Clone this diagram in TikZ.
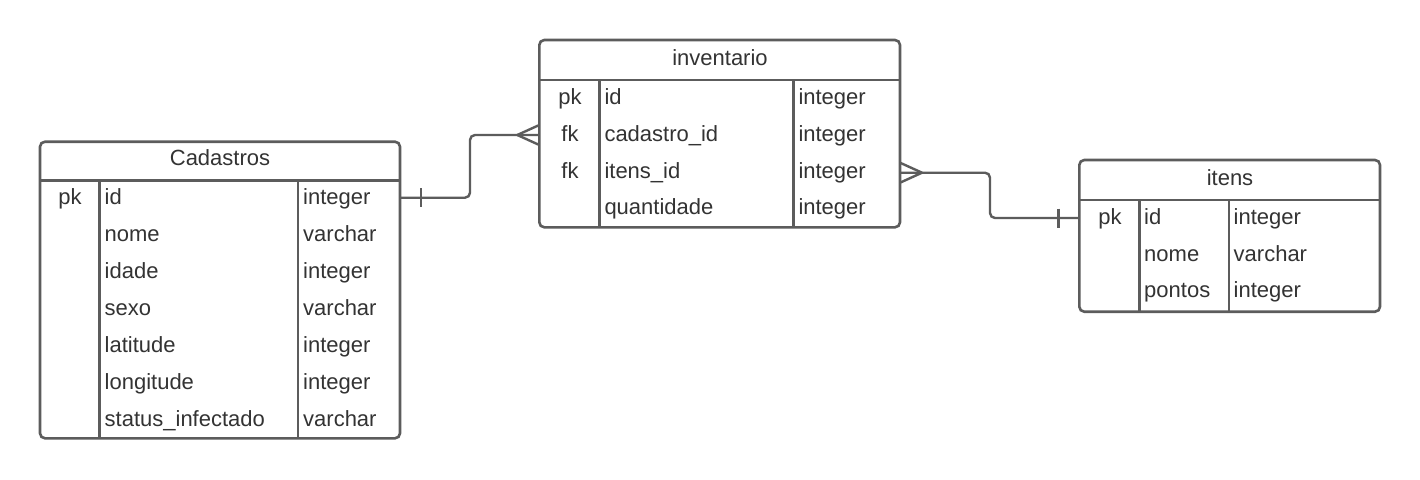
\documentclass[tikz,border=0pt]{standalone}
\usepackage{fontspec}
\setmainfont{Liberation Sans}
\usetikzlibrary{calc}
\definecolor{ln}{RGB}{92,92,92}
\definecolor{tx}{RGB}{51,51,51}
\begin{document}
\begin{tikzpicture}[x=1pt,y=-1pt,
  tbl/.style={draw=ln, line width=2.6pt, rounded corners=5pt, inner sep=0pt, outer sep=0pt, anchor=north west},
  sepline/.style={draw=ln, line width=2.6pt},
  txt/.style={text=tx, font=\fontsize{22}{26}\selectfont, inner sep=0pt, anchor=base west},
  ctxt/.style={txt, anchor=base},
  conn/.style={draw=ln, line width=2.4pt, rounded corners=5pt},
  endmark/.style={draw=ln, line width=2.4pt}
]
\useasboundingbox[fill=white] (0,0) rectangle (1420,479);

% ---------------- Cadastros ----------------
\node[tbl, minimum width=360pt, minimum height=296.6pt] (cad) at (40,141.7) {};
\draw[sepline] (40,180.7) -- (400,180.7);
\draw[sepline] (99.3,180.7) -- (99.3,438.3);
\draw[sepline] (298,180.7) -- (298,438.3);
\node[ctxt] (cadh) at (220,165.3) {Cadastros};
\node[ctxt] (cpk) at (70,204.7) {pk};
\node[txt] (cf1) at (104.5,204.7) {id};
\node[txt] (cf2) at (104.5,241.7) {nome};
\node[txt] (cf3) at (104.5,278.7) {idade};
\node[txt] (cf4) at (104.5,315.7) {sexo};
\node[txt] (cf5) at (104.5,352.7) {latitude};
\node[txt] (cf6) at (104.5,389.7) {longitude};
\node[txt] (cf7) at (104.5,426.7) {status\_infectado};
\node[txt] (ct1) at (303,204.7) {integer};
\node[txt] (ct2) at (303,241.7) {varchar};
\node[txt] (ct3) at (303,278.7) {integer};
\node[txt] (ct4) at (303,315.7) {varchar};
\node[txt] (ct5) at (303,352.7) {integer};
\node[txt] (ct6) at (303,389.7) {integer};
\node[txt] (ct7) at (303,426.7) {varchar};

% ---------------- inventario ----------------
\node[tbl, minimum width=360.7pt, minimum height=187.3pt] (inv) at (539.3,40) {};
\draw[sepline] (539.3,80) -- (900,80);
\draw[sepline] (599.3,80) -- (599.3,227.3);
\draw[sepline] (793.3,80) -- (793.3,227.3);
\node[ctxt] (invh) at (720,65.3) {inventario};
\node[ctxt] (ipk) at (570,104.7) {pk};
\node[ctxt] (ifk1) at (570,141.3) {fk};
\node[ctxt] (ifk2) at (570,178) {fk};
\node[txt] (if1) at (604.3,104.7) {id};
\node[txt] (if2) at (604.3,141.3) {cadastro\_id};
\node[txt] (if3) at (604.3,178) {itens\_id};
\node[txt] (if4) at (604.3,214.7) {quantidade};
\node[txt] (it1) at (798.3,104.7) {integer};
\node[txt] (it2) at (798.3,141.3) {integer};
\node[txt] (it3) at (798.3,178) {integer};
\node[txt] (it4) at (798.3,214.7) {integer};

% ---------------- itens ----------------
\node[tbl, minimum width=300.7pt, minimum height=151.7pt] (itn) at (1079.3,160) {};
\draw[sepline] (1079.3,200) -- (1380,200);
\draw[sepline] (1139.3,200) -- (1139.3,311.7);
\draw[sepline] (1229,200) -- (1229,311.7);
\node[ctxt] (itnh) at (1230,185.3) {itens};
\node[ctxt] (tpk) at (1110,224.7) {pk};
\node[txt] (tf1) at (1144,224.7) {id};
\node[txt] (tf2) at (1144,261) {nome};
\node[txt] (tf3) at (1144,297) {pontos};
\node[txt] (tt1) at (1233.5,224.7) {integer};
\node[txt] (tt2) at (1233.5,261) {varchar};
\node[txt] (tt3) at (1233.5,297) {integer};

% ---------------- connectors ----------------
\coordinate (c1a) at (cad.east |- 0,197.7);
\coordinate (c1b) at (inv.west |- 0,135);
\draw[conn] (c1a) -- (470,197.7) -- (470,135) -- (c1b);
\draw[endmark] ($(c1a)+(21,-9.5)$) -- ($(c1a)+(21,9.5)$);
\draw[endmark] ($(c1b)+(-22,0)$) -- ($(c1b)+(0,-10)$);
\draw[endmark] ($(c1b)+(-22,0)$) -- ($(c1b)+(0,10)$);

\coordinate (c2a) at (inv.east |- 0,172.7);
\coordinate (c2b) at (itn.west |- 0,218);
\draw[conn] (c2a) -- (990,172.7) -- (990,218) -- (c2b);
\draw[endmark] ($(c2a)+(22,0)$) -- ($(c2a)+(0,-10)$);
\draw[endmark] ($(c2a)+(22,0)$) -- ($(c2a)+(0,10)$);
\draw[endmark] ($(c2b)+(-21,-9.5)$) -- ($(c2b)+(-21,9.5)$);
\end{tikzpicture}
\end{document}
